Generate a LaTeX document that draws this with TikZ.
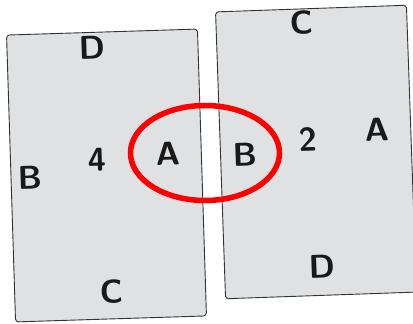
\documentclass[tikz,border=0pt]{standalone}
\usepackage{xcolor}
\usepackage{tikz}
\usetikzlibrary{shapes,positioning,calc}
\definecolor{cardfill}{HTML}{E0E1E3}
\definecolor{cardline}{HTML}{333333}
\definecolor{ringred}{HTML}{FF0000}

\begin{document}
\begin{tikzpicture}[x=1pt, y=1pt,
  card/.style={rectangle, draw=cardline, fill=cardfill, line width=0.9pt, rounded corners=3pt, minimum width=191pt, minimum height=287pt, inner sep=0pt},
  letter/.style={font=\sffamily\bfseries\fontsize{33}{36}\selectfont, text=black!90, inner sep=0pt},
  ring/.style={draw=ringred, line width=5.5pt}
]
\useasboundingbox (0,0) rectangle (413,324);

% ---- Left card ----
\node[card, rotate=1.8] (leftcard) at (106.5,148.5) {};
\node[letter, rotate=1.8] (ltop) at (92,276) {D};
\node[letter, rotate=1.8] (lleft) at (30,146) {B};
\node[letter, rotate=1.8] (lmid) at (97,164) {4};
\node[letter, rotate=1.8] (lright) at (168,170) {A};
\node[letter, rotate=1.8] (lbottom) at (112,32) {C};

% ---- Right card ----
\node[card, rotate=2] (rightcard) at (316,172) {};
\node[letter, rotate=2] (rtop) at (302,301) {C};
\node[letter, rotate=2] (rleft) at (245,169) {B};
\node[letter, rotate=2] (rmid) at (308,185) {2};
\node[letter, rotate=2] (rright) at (377,194) {A};
\node[letter, rotate=2] (rbottom) at (322,57) {D};

% ---- Matching pair ----
\draw[ring] (205,171) ellipse [x radius=74.5, y radius=47.5];

\end{tikzpicture}
\end{document}
